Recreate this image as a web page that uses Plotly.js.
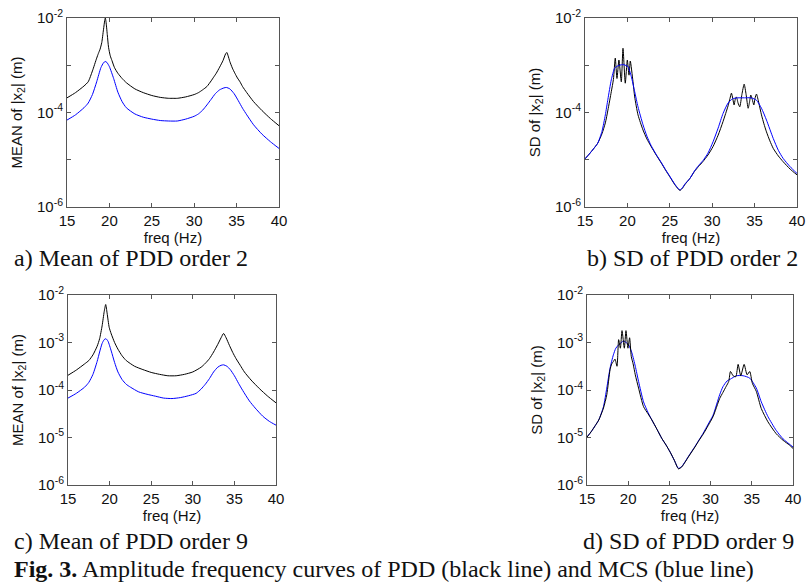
<!DOCTYPE html>
<html>
<head>
<meta charset="utf-8">
<script src="https://cdn.plot.ly/plotly-3.0.1.min.js"></script>
<style>html,body{margin:0;padding:0;background:#fff;}#chart{width:809px;height:584px;}</style>
</head>
<body>
<div id="chart"></div>
<script>
// All amplitudes are stored as log10 of |x2| in metres

// ---- a) Mean of PDD order 2 ----
const fA_pdd = [15,16,17,17.5,18,18.5,18.7,18.9,19.1,19.3,19.45,19.52,19.6,19.75,19.9,20.1,20.3,20.6,21,21.5,22,23,24,25,26,27,27.5,28,29,30,30.5,31,31.5,32,32.3,32.6,33,33.4,33.7,33.85,34,34.2,34.5,34.8,35.1,35.4,35.7,36.2,37,38,39,40];
const lA_pdd = [-3.69,-3.58,-3.44,-3.35,-3.12,-2.85,-2.75,-2.66,-2.52,-2.25,-2.05,-2.00,-2.08,-2.35,-2.62,-2.80,-2.90,-3.05,-3.17,-3.28,-3.37,-3.50,-3.58,-3.64,-3.68,-3.70,-3.70,-3.70,-3.67,-3.62,-3.58,-3.52,-3.45,-3.33,-3.25,-3.17,-3.04,-2.90,-2.76,-2.73,-2.80,-2.92,-3.06,-3.17,-3.27,-3.35,-3.45,-3.58,-3.77,-3.96,-4.13,-4.28];
const fA_mcs = [15,16,17,17.5,18,18.5,19,19.3,19.5,19.7,20,20.5,21,21.5,22,23,24,25,26,27,28,29,30,30.5,31,31.5,32,32.5,33,33.5,33.8,34.2,34.7,35.2,35.7,36.2,37,38,39,40];
const lA_mcs = [-4.16,-4.05,-3.90,-3.80,-3.62,-3.35,-3.05,-2.95,-2.92,-2.94,-3.03,-3.28,-3.57,-3.77,-3.90,-4.03,-4.10,-4.14,-4.17,-4.18,-4.18,-4.14,-4.08,-4.03,-3.95,-3.84,-3.72,-3.60,-3.52,-3.48,-3.47,-3.50,-3.60,-3.75,-3.91,-4.05,-4.26,-4.46,-4.62,-4.76];

// ---- b) SD of PDD order 2 ----
const fB_pdd = [15,15.5,16,16.5,17,17.4,17.7,18.1,18.35,18.57,18.77,19.0,19.28,19.48,19.75,19.99,20.19,20.34,20.66,20.86,21.25,21.84,22.3,22.8,23.4,24.0,24.5,25.0,25.6,26.0,26.2,26.5,26.8,27.35,27.9,28.4,28.9,29.5,30.1,30.7,31.28,31.87,32.1,32.27,32.42,32.58,32.72,32.86,33.05,33.25,33.5,33.77,34.0,34.24,34.4,34.55,34.72,34.91,35.05,35.22,35.5,35.81,36.1,36.4,36.8,37.2,37.8,38.36,39.2,40];
const lB_pdd = [-4.98,-4.88,-4.77,-4.65,-4.45,-4.22,-3.95,-3.56,-3.30,-2.85,-3.28,-2.89,-3.35,-2.64,-3.38,-2.89,-3.21,-2.91,-3.35,-3.67,-4.05,-4.37,-4.56,-4.72,-4.90,-5.07,-5.22,-5.36,-5.53,-5.62,-5.65,-5.60,-5.52,-5.40,-5.25,-5.14,-5.04,-4.90,-4.72,-4.48,-4.19,-3.86,-3.70,-3.59,-3.70,-3.84,-3.72,-3.67,-3.80,-3.88,-3.62,-3.40,-3.62,-3.91,-3.78,-3.63,-3.72,-3.84,-3.70,-3.61,-3.80,-4.05,-4.24,-4.41,-4.60,-4.76,-4.92,-5.04,-5.20,-5.32];
const fB_mcs = [15,15.5,16,16.5,17,17.4,17.7,18.1,18.5,18.9,19.3,19.6,20.07,20.46,20.86,21.25,21.84,22.3,22.8,23.4,24.0,24.5,25.0,25.6,26.0,26.2,26.5,26.8,27.35,27.9,28.4,28.9,29.5,30.1,30.7,31.28,31.87,32.4,33,33.8,34.6,35.22,35.81,36.4,37.2,37.8,38.36,39.2,40];
const lB_mcs = [-4.98,-4.88,-4.77,-4.65,-4.40,-4.05,-3.72,-3.31,-3.06,-3.01,-2.99,-2.99,-3.03,-3.24,-3.56,-3.88,-4.26,-4.50,-4.70,-4.89,-5.06,-5.21,-5.35,-5.52,-5.61,-5.64,-5.59,-5.51,-5.40,-5.24,-5.12,-5.02,-4.86,-4.62,-4.33,-4.02,-3.80,-3.71,-3.69,-3.69,-3.69,-3.74,-3.91,-4.16,-4.55,-4.80,-4.97,-5.15,-5.29];

// ---- c) Mean of PDD order 9 ----
const fC_pdd = [15,16,17,17.5,18,18.5,18.8,19.1,19.35,19.53,19.7,19.95,20.2,20.6,21,21.5,22,23,24,25,26,27,28,29,30,31,31.5,32,32.5,33,33.4,33.7,34,34.4,34.8,35.2,35.7,36.2,37,38,39,40];
const lC_pdd = [-3.69,-3.58,-3.45,-3.38,-3.26,-3.08,-2.92,-2.65,-2.35,-2.20,-2.38,-2.68,-2.82,-3.00,-3.14,-3.28,-3.38,-3.50,-3.57,-3.63,-3.67,-3.70,-3.70,-3.67,-3.62,-3.52,-3.44,-3.34,-3.20,-3.04,-2.90,-2.81,-2.90,-3.06,-3.21,-3.34,-3.48,-3.62,-3.79,-3.97,-4.13,-4.27];
const fC_mcs = [15,16,17,17.5,18,18.5,18.8,19.1,19.35,19.55,19.8,20.2,20.6,21,21.5,22,22.5,23.5,24.5,25.5,26.5,27.5,28.5,29.5,30.4,31,31.5,32,32.5,33,33.4,33.7,34.1,34.5,35,35.5,36,36.8,37.5,38.4,39.2,40];
const lC_mcs = [-4.17,-4.07,-3.94,-3.84,-3.67,-3.40,-3.20,-3.02,-2.94,-2.92,-2.97,-3.18,-3.42,-3.62,-3.78,-3.88,-3.94,-4.04,-4.09,-4.13,-4.17,-4.18,-4.16,-4.12,-4.07,-3.98,-3.88,-3.76,-3.62,-3.52,-3.48,-3.47,-3.50,-3.57,-3.70,-3.86,-4.01,-4.23,-4.38,-4.55,-4.66,-4.74];

// ---- d) SD of PDD order 9 ----
const fD_pdd = [15,15.5,16,16.43,17.0,17.4,17.8,18.0,18.2,18.4,18.64,18.84,19.05,19.25,19.53,19.73,19.97,20.17,20.37,20.6,20.86,21.26,21.86,22.4,22.87,23.5,24.08,24.6,25.1,25.6,26.1,26.5,26.9,27.3,28.1,28.6,29.1,29.7,30.3,31.1,31.5,31.9,32.2,32.41,32.73,33.06,33.34,33.66,34.07,34.43,34.75,35.07,35.55,36.15,36.96,37.96,38.8,39.57,40];
const lD_pdd = [-4.99,-4.88,-4.75,-4.63,-4.38,-4.10,-3.57,-3.45,-3.40,-3.35,-3.50,-2.94,-3.12,-2.75,-3.12,-2.75,-3.12,-2.90,-3.29,-3.45,-3.68,-3.96,-4.35,-4.50,-4.63,-4.83,-5.02,-5.16,-5.31,-5.48,-5.66,-5.62,-5.52,-5.41,-5.20,-5.06,-4.93,-4.75,-4.56,-4.18,-4.05,-3.92,-3.82,-3.61,-3.70,-3.72,-3.46,-3.70,-3.46,-3.68,-3.61,-3.86,-4.03,-4.39,-4.67,-4.92,-5.06,-5.16,-5.23];
const fD_mcs = [15,15.5,16,16.43,17,17.4,17.8,18.2,18.5,18.84,19.45,20.05,20.45,20.86,21.26,21.86,22.4,22.87,23.5,24.08,24.6,25.1,25.6,26.1,26.5,26.9,27.3,28.1,28.6,29.1,29.7,30.3,31.1,31.5,32.0,32.41,33.14,33.95,34.75,35.55,36.15,36.96,37.96,38.8,39.5,40];
const lD_mcs = [-4.99,-4.88,-4.75,-4.63,-4.35,-3.96,-3.54,-3.26,-3.12,-3.05,-2.97,-3.05,-3.22,-3.50,-3.82,-4.25,-4.47,-4.63,-4.83,-5.02,-5.16,-5.31,-5.48,-5.65,-5.61,-5.51,-5.40,-5.19,-5.05,-4.91,-4.72,-4.53,-4.10,-3.93,-3.81,-3.77,-3.70,-3.70,-3.75,-3.96,-4.25,-4.56,-4.85,-5.03,-5.13,-5.20];

// ---- tick labels ----
const xTicks = [15,20,25,30,35,40];
const yTicksAll = [-6,-5,-4,-3,-2];
const yTextSparse = ['10<sup>-6</sup>','','10<sup>-4</sup>','','10<sup>-2</sup>'];
const yTextFull = ['10<sup>-6</sup>','10<sup>-5</sup>','10<sup>-4</sup>','10<sup>-3</sup>','10<sup>-2</sup>'];

const captions = ['a) Mean of PDD order 2','b) SD of PDD order 2','c) Mean of PDD order 9','d) SD of PDD order 9'];
const figLabel = '<b>Fig. 3.</b> Amplitude frequency curves of PDD (black line) and MCS (blue line)';

const W = 809, H = 584;
const px = v => v / W;
const py = v => 1 - v / H;

const tickFont = {family: 'Liberation Sans, Arial, sans-serif', size: 15, color: '#111'};
const capFont = {family: 'Liberation Serif, Times New Roman, serif', size: 24, color: '#111'};
const lineCol = '#555';

function mkTrace(x, y, color, xa, ya) {
  return {x: x, y: y, type: 'scatter', mode: 'lines', xaxis: xa, yaxis: ya,
          line: {color: color, width: 1, shape: 'spline', smoothing: 0.6}, hoverinfo: 'skip', showlegend: false};
}

const data = [
  mkTrace(fA_pdd, lA_pdd, '#000000', 'x', 'y'),
  mkTrace(fA_mcs, lA_mcs, '#0000ff', 'x', 'y'),
  mkTrace(fB_pdd, lB_pdd, '#000000', 'x2', 'y2'),
  mkTrace(fB_mcs, lB_mcs, '#0000ff', 'x2', 'y2'),
  mkTrace(fC_pdd, lC_pdd, '#000000', 'x3', 'y3'),
  mkTrace(fC_mcs, lC_mcs, '#0000ff', 'x3', 'y3'),
  mkTrace(fD_mcs, lD_mcs, '#0000ff', 'x4', 'y4'),
  mkTrace(fD_pdd, lD_pdd, '#000000', 'x4', 'y4')
];

function xAxis(domain, anchor) {
  return {domain: domain, anchor: anchor, range: [15, 40], tickmode: 'array', tickvals: xTicks,
          ticks: 'inside', ticklen: 4, tickcolor: lineCol, showline: true, linecolor: lineCol, linewidth: 1,
          mirror: 'ticks', showgrid: false, zeroline: false, tickfont: tickFont,
          title: {text: 'freq (Hz)', font: tickFont, standoff: 4}};
}
function yAxis(domain, anchor, text, title) {
  return {domain: domain, anchor: anchor, range: [-6, -2], tickmode: 'array', tickvals: yTicksAll, ticktext: text,
          ticks: 'inside', ticklen: 4, tickcolor: lineCol, showline: true, linecolor: lineCol, linewidth: 1,
          mirror: 'ticks', showgrid: false, zeroline: false, tickfont: tickFont,
          title: {text: title, font: tickFont, standoff: 10}};
}

const yTop = [py(207), py(18)];
const yBot = [py(485), py(295)];

const layout = {
  width: W, height: H, autosize: false,
  margin: {l: 0, r: 0, t: 0, b: 0},
  paper_bgcolor: '#fff', plot_bgcolor: '#fff',
  showlegend: false,
  xaxis: xAxis([px(67), px(279)], 'y'),
  yaxis: yAxis(yTop, 'x', yTextSparse, 'MEAN of |x<sub>2</sub>| (m)'),
  xaxis2: xAxis([px(585), px(797)], 'y2'),
  yaxis2: yAxis(yTop, 'x2', yTextSparse, 'SD of |x<sub>2</sub>| (m)'),
  xaxis3: xAxis([px(68), px(276)], 'y3'),
  yaxis3: yAxis(yBot, 'x3', yTextFull, 'MEAN of |x<sub>2</sub>| (m)'),
  xaxis4: xAxis([px(587), px(793)], 'y4'),
  yaxis4: yAxis(yBot, 'x4', yTextFull, 'SD of |x<sub>2</sub>| (m)'),
  annotations: [
    {text: captions[0], xref: 'paper', yref: 'paper', x: px(12), y: py(258), xanchor: 'left', yanchor: 'middle', showarrow: false, font: capFont},
    {text: captions[1], xref: 'paper', yref: 'paper', x: px(692), y: py(258), xanchor: 'center', yanchor: 'middle', showarrow: false, font: capFont},
    {text: captions[2], xref: 'paper', yref: 'paper', x: px(12), y: py(541), xanchor: 'left', yanchor: 'middle', showarrow: false, font: capFont},
    {text: captions[3], xref: 'paper', yref: 'paper', x: px(688), y: py(541), xanchor: 'center', yanchor: 'middle', showarrow: false, font: capFont},
    {text: figLabel, xref: 'paper', yref: 'paper', x: px(12), y: py(569), xanchor: 'left', yanchor: 'middle', showarrow: false, font: capFont}
  ]
};

Plotly.newPlot('chart', data, layout, {staticPlot: true, displayModeBar: false});
</script>
</body>
</html>
